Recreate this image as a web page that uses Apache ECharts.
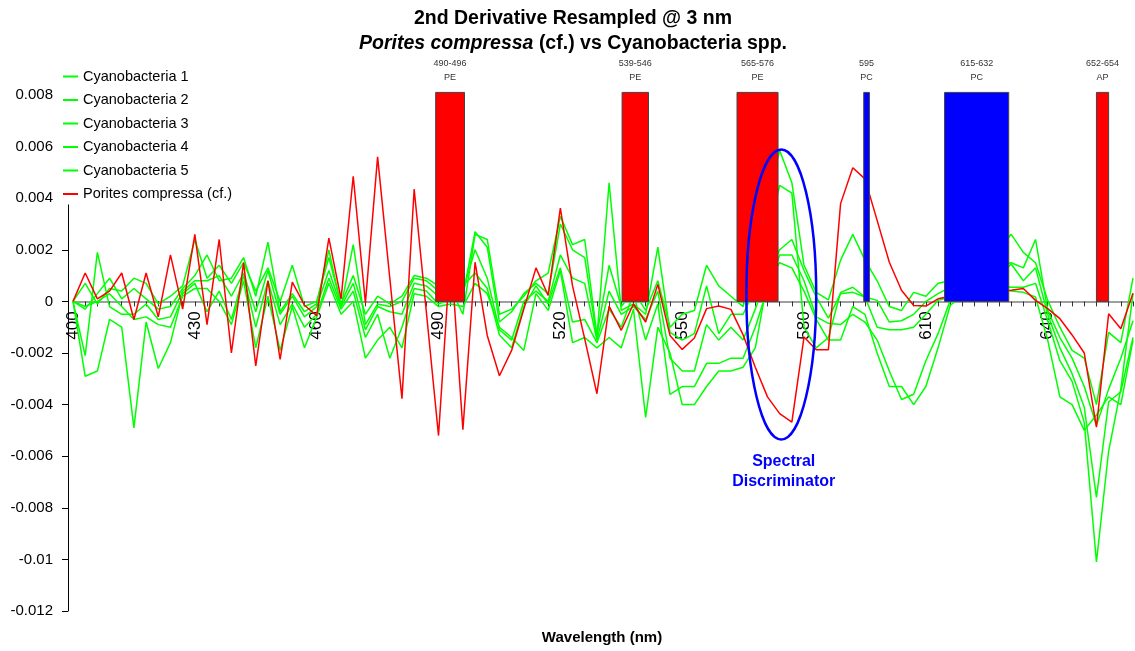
<!DOCTYPE html>
<html><head><meta charset="utf-8">
<script src="https://cdn.jsdelivr.net/npm/echarts@6/dist/echarts.min.js"></script>
<style>html,body{margin:0;padding:0;background:#fff}#c{width:1135px;height:651px}</style>
</head><body><div id="c"></div>
<script>
const wavelengths = ['400','403','406','409','412','415','418','421','424','427','430','433','436','439','442','445','448','451','454','457','460','463','466','469','472','475','478','481','484','487','490','493','496','499','502','505','508','511','514','517','520','523','526','529','532','535','538','541','544','547','550','553','556','559','562','565','568','571','574','577','580','583','586','589','592','595','598','601','604','607','610','613','616','619','622','625','628','631','634','637','640','643','646','649','652','655','658','661'];

const cyano1 = [0, 0.0007, -0.0001, 0.0005, 0.0004, 0.0009, 0.0007, -0.0001, 0.0002, 0.0006,
 0.0024, 0.0009, 0.0014, 0.0007, 0.0015, 0.0004, 0.0013, 0, 0.0014, -0.0002,
 0, 0.0017, -0.0001, 0.001, -0.0005, 0.0002, -0.0001, 0.0002, 0.001, 0.0009,
 0.0006, 0.0005, -0.0005, 0.0026, 0.0024, -0.0005, -0.0003, 0.0002, 0.0008, 0.0011,
 0.0033, 0.0022, 0.0024, -0.0013, 0.0014, -0.0002, 0.0004, -0.00035, 0.0008, -0.001,
 -0.0005, -0.00035, 0.0014, 0.0006, 0.0002, -0.0002, 0.0015, 0.004, 0.00585, 0.0046,
 0.0014, 0.00035, 0.00006, 0.0016, 0.0026, 0.0016, 0.0008, -0.0002, -0.00035, 0.00035,
 0.0002, 0.0007, 0.0008, 0.001, 0.0012, 0.0015, 0.002, 0.0026, 0.0019, 0.0015,
 0.00004, -0.001, -0.0019, -0.0022, -0.004, -0.0012, -0.0016, 0.0009];

const cyano2 = [0, -0.0003, 0.0003, 0.0009, 0.0001, 0.0005, 0.0001, -0.0003, -0.0002, 0.0005,
 0.001, 0.0018, 0.0008, 0.0009, 0.0017, 0.0002, 0.0023, -0.0004, 0.0003, -0.0004,
 -0.0001, 0.002, -0.0002, 0.0022, -0.0009, -0.0001, -0.0002, 0, 0.0009, 0.0008,
 0.0004, 0.0002, 0.0002, 0.0027, 0.0021, -0.0008, -0.0004, 0.0003, 0.0007, 0.0003,
 0.003, 0.002, 0.0017, -0.0014, 0.0046, -0.00035, -0.0001, -0.0005, 0.0021, -0.0012,
 -0.0015, -0.00125, 0.0006, -0.00125, -0.0005, -0.0005, 0.0005, 0.0025, 0.0045, 0.0042,
 -0.001, -0.0018, -0.0014, 0.00035, 0.00055, 0.00017, 0.00004, -0.0008, -0.00075, -0.0005,
 0, 0.0003, 0.00055, 0.0008, 0.001, 0.0012, 0.0014, 0.0015, 0.0013, 0.0024,
 -0.00035, -0.0014, -0.0022, -0.0033, -0.0048, -0.0034, -0.0022, -0.00075];

const cyano3 = [0, -0.0021, 0.0019, -0.0002, -0.0005, -0.0005, -0.0001, -0.0007, -0.0006, 0.0004,
 0.0008, 0.0008, 0.001, 0.0002, 0.0011, -0.0004, 0.0012, -0.0005, 0.0002, -0.0006,
 -0.0002, 0.0012, -0.0002, 0.0007, -0.0011, -0.0002, -0.0004, -0.0005, 0.0007, 0.0006,
 0.0002, 0, 0.0004, 0.002, 0.0009, -0.0011, -0.0015, 0, 0.0004, 0,
 0.0018, 0.0009, 0.0007, -0.0015, 0.0004, -0.0005, -0.0002, -0.0007, 0.0004, -0.0022,
 -0.0027, -0.0027, -0.0009, -0.0015, -0.001, -0.0015, -0.0003, 0.001, 0.002, 0.0024,
 0.0012, 0.00017, -0.00065, 0.0003, 0.00035, 0.00017, -0.001, -0.0011, -0.0011, -0.001,
 -0.0005, 0.00004, 0.00017, 0.0005, 0.0007, 0.0008, 0.001, 0.00145, 0.0008, 0.0013,
 -0.0005, -0.0018, -0.0028, -0.0041, -0.0076, -0.0039, -0.0035, -0.0014];

const cyano4 = [0, -0.0029, -0.0027, -0.0007, -0.001, -0.0049, -0.0008, -0.0026, -0.0016, 0.0003,
 0.0007, -0.0004, 0.0004, -0.0007, 0.001, -0.001, 0.0008, -0.0009, -0.0001, -0.001,
 -0.0005, 0.0009, -0.0003, 0.0004, -0.0014, -0.0005, -0.0022, -0.001, 0.0005, 0.0004,
 -0.0001, 0.0001, 0.0006, 0.0011, 0.0005, -0.0013, -0.0018, -0.0002, 0.0006, -0.0001,
 0.0013, -0.0008, -0.0007, -0.0016, -0.0003, -0.001, 0.0003, -0.0015, -0.0001, -0.0036,
 -0.0033, -0.0033, -0.0024, -0.0024, -0.0022, -0.0022, -0.001, 0.0005, 0.0018, 0.0018,
 0.0008, -0.0006, -0.00085, -0.0009, -0.0005, -0.0008, -0.0015, -0.0027, -0.0038, -0.0036,
 -0.0023, -0.00125, 0.00004, 0.0003, 0.0004, 0.0005, 0.0006, 0.00055, 0.00055, 0.0007,
 -0.00075, -0.0023, -0.0031, -0.0047, -0.0101, -0.0058, -0.0034, 0.0003];

const cyano5 = [0, -0.0002, 0, 0.0003, -0.0002, -0.0007, -0.0006, -0.0009, -0.001, 0.0002,
 0.0005, 0.0005, 0, -0.0009, 0.0008, -0.0018, 0.0002, -0.0019, -0.0002, -0.0018,
 -0.0006, 0.0007, -0.0005, 0, -0.0022, -0.0015, -0.001, -0.0018, 0.0003, 0.0002,
 -0.0002, -0.0001, -0.0002, 0.0007, 0.0003, -0.001, -0.0014, -0.0019, 0.0003, -0.00035,
 0.0012, -0.0016, -0.0014, -0.0018, -0.0014, -0.0018, -0.0003, -0.0045, -0.001, -0.002,
 -0.004, -0.004, -0.0033, -0.0027, -0.0027, -0.00255, -0.0018, 0.0008, 0.0015, 0.0013,
 0.0004, -0.0007, -0.0015, -0.0015, -0.0002, -0.0005, -0.002, -0.0033, -0.0033, -0.004,
 -0.0033, -0.0018, -0.00015, 0.0002, 0.0003, 0.0004, 0.0005, 0.0004, 0.00035, 0.00017,
 -0.0015, -0.0037, -0.004, -0.005, -0.0044, -0.0037, -0.004, -0.0015];

const porites = [0, 0.0011, 0.0001, 0.0004, 0.0011, -0.0007, 0.0011, -0.0006, 0.0018, -0.0003,
 0.0026, -0.0009, 0.0024, -0.002, 0.0015, -0.0025, 0.0008, -0.00225, 0.00075, -0.00015,
 -0.00055, 0.00245, 0.0001, 0.00485, -0.00006, 0.0056, 0.0009, -0.00377, 0.00435, -0.0004,
 -0.0052, 0.002, -0.00497, 0.00152, -0.00132, -0.00288, -0.0019, -0.0003, 0.0013, 0.00023,
 0.00362, 0.0006, -0.00145, -0.00358, -0.00018, -0.00112, -0.0001, -0.0008, 0.00066, -0.00132,
 -0.00186, -0.00142, -0.00028, -0.00018, -0.00031, -0.0013, -0.00255, -0.0037, -0.00435, -0.00468,
 -0.00138, -0.00187, -0.00187, 0.00379, 0.00518, 0.00475, 0.00314, 0.00152, 0.00043, -0.00016,
 -0.00018, 0.0001, 0.0002, 0.0003, 0.0003, 0.0004, 0.0004, 0.00043, 0.0005, 0.00004,
 -0.00028, -0.00067, -0.0013, -0.002, -0.00487, -0.00048, -0.00106, 0.00032];

const seriesNames = ['Cyanobacteria 1','Cyanobacteria 2','Cyanobacteria 3','Cyanobacteria 4','Cyanobacteria 5','Porites compressa (cf.)'];

// pigment absorption bands (nm)
const bandStart = [489.3, 535.2, 563.5, 594.7, 614.6, 652.0];
const bandEnd = [496.4, 541.7, 573.6, 596.1, 630.4, 655.0];
const bandRange = ['490-496', '539-546', '565-576', '595', '615-632', '652-654'];
const bandPigment = ['PE', 'PE', 'PE', 'PC', 'PC', 'AP'];
const bandTop = 0.0081;

// annotation: spectral discriminator ellipse (nm, value)
const discCenter = [574.4, 0.00027];
const discRadius = [8.6, 0.00562];
const discLabelAt = [575, -0.0066];
const discLabel = 'Spectral\nDiscriminator';

// y axis range
const yMin = -0.012, yMax = 0.008, yStep = 0.002;

const FONT = '"Liberation Sans", Arial, sans-serif';
const GREEN = '#00ff00', RED = '#ff0000', BLUE = '#0000ff';
const pigmentColor = { PE: RED, AP: RED, PC: BLUE };

const GRID_TOP = 95, GRID_BOTTOM = 40, H = 651;
const plotH = H - GRID_TOP - GRID_BOTTOM;
// move the category axis up so it sits on y = 0
const zeroOffset = -plotH * (0 - yMin) / (yMax - yMin);

const lineData = [cyano1, cyano2, cyano3, cyano4, cyano5, porites];
const lineColors = [GREEN, GREEN, GREEN, GREEN, GREEN, RED];

const series = lineData.map((d, k) => ({
  type: 'line', name: seriesNames[k], data: d,
  xAxisIndex: 0, yAxisIndex: 0,
  showSymbol: false, symbol: 'none',
  color: lineColors[k],
  lineStyle: { width: 1.5, color: lineColors[k] },
  z: 2, silent: true
}));

series.push({
  type: 'custom', name: 'bands', xAxisIndex: 1, yAxisIndex: 0, z: 5, silent: true,
  data: bandStart.map((s, i) => [s, bandEnd[i], bandTop, i]),
  encode: { x: [0, 1], y: 2 },
  renderItem: function (params, api) {
    const i = api.value(3);
    const p0 = api.coord([api.value(0), 0]);
    const p1 = api.coord([api.value(1), api.value(2)]);
    const cx = (p0[0] + p1[0]) / 2;
    return {
      type: 'group', children: [
        { type: 'rect', shape: { x: p0[0], y: p1[1], width: p1[0] - p0[0], height: p0[1] - p1[1] },
          style: { fill: pigmentColor[bandPigment[i]], stroke: '#444', lineWidth: 1 } },
        { type: 'text', style: { text: bandRange[i], x: cx, y: p1[1] - 29, align: 'center', verticalAlign: 'middle',
          fontSize: 9, fontFamily: FONT, fill: '#333' } },
        { type: 'text', style: { text: bandPigment[i], x: cx, y: p1[1] - 15, align: 'center', verticalAlign: 'middle',
          fontSize: 9, fontFamily: FONT, fill: '#333' } }
      ]
    };
  }
});

series.push({
  type: 'custom', name: 'disc', xAxisIndex: 1, yAxisIndex: 0, z: 6, silent: true,
  data: [[discCenter[0], discCenter[1], discRadius[0], discRadius[1]]],
  renderItem: function (params, api) {
    const c = api.coord([api.value(0), api.value(1)]);
    const s = api.size([api.value(2), api.value(3)]);
    const t = api.coord(discLabelAt);
    return {
      type: 'group', children: [
        { type: 'ellipse', shape: { cx: c[0], cy: c[1], rx: s[0], ry: s[1] },
          style: { fill: 'none', stroke: BLUE, lineWidth: 2.5 } },
        { type: 'text', style: { text: discLabel, x: t[0], y: t[1], align: 'center', verticalAlign: 'middle',
          fontSize: 16, fontWeight: 'bold', fontFamily: FONT, fill: BLUE, lineHeight: 20 } }
      ]
    };
  }
});

const option = {
  animation: false,
  backgroundColor: '#fff',
  title: [
    { text: '{a|2nd Derivative Resampled @ 3 nm}\n{i|Porites compressa}{a| (cf.) vs Cyanobacteria spp.}',
      left: 573, top: 6, padding: 0, textAlign: 'center',
      textStyle: { rich: {
        a: { fontSize: 19.5, fontWeight: 'bold', fontFamily: FONT, color: '#000', lineHeight: 25 },
        i: { fontSize: 19.5, fontWeight: 'bold', fontStyle: 'italic', fontFamily: FONT, color: '#000', lineHeight: 25 }
      } } },
    { text: 'Wavelength (nm)', left: 602, top: 630, padding: 0, textAlign: 'center',
      textStyle: { fontSize: 15, fontWeight: 'bold', fontFamily: FONT, color: '#000' } }
  ],
  legend: {
    data: seriesNames, left: 60, top: 63, orient: 'vertical',
    icon: 'rect', itemWidth: 15, itemHeight: 2, itemGap: 2.5,
    backgroundColor: '#fff', padding: [3, 6, 0, 3], selectedMode: false,
    textStyle: { fontSize: 14.5, fontFamily: FONT, color: '#000', lineHeight: 21 }
  },
  grid: { left: 73, right: 2, top: GRID_TOP, bottom: GRID_BOTTOM, containLabel: false },
  xAxis: [
    { type: 'category', data: wavelengths, boundaryGap: false, position: 'bottom', offset: zeroOffset,
      axisLine: { onZero: false, lineStyle: { color: '#808080', width: 1.5 } },
      axisTick: { show: true, interval: 0, length: 5, lineStyle: { color: '#333' } },
      axisLabel: { interval: 9, rotate: 90, fontSize: 17, color: '#000', fontFamily: FONT, margin: 10 },
      splitLine: { show: false } },
    { type: 'value', min: 400, max: 661, show: false, splitLine: { show: false } }
  ],
  yAxis: {
    type: 'value', min: yMin, max: yMax, interval: yStep, offset: 5,
    axisLine: { show: true, onZero: false, lineStyle: { color: '#000', width: 1 } },
    axisTick: { show: true, length: 6, lineStyle: { color: '#000' } },
    axisLabel: { fontSize: 15, color: '#000', fontFamily: FONT, margin: 15 },
    splitLine: { show: false }
  },
  series: series
};

const chart = echarts.init(document.getElementById('c'), null, { renderer: 'canvas' });
chart.setOption(option);
</script>
</body></html>
